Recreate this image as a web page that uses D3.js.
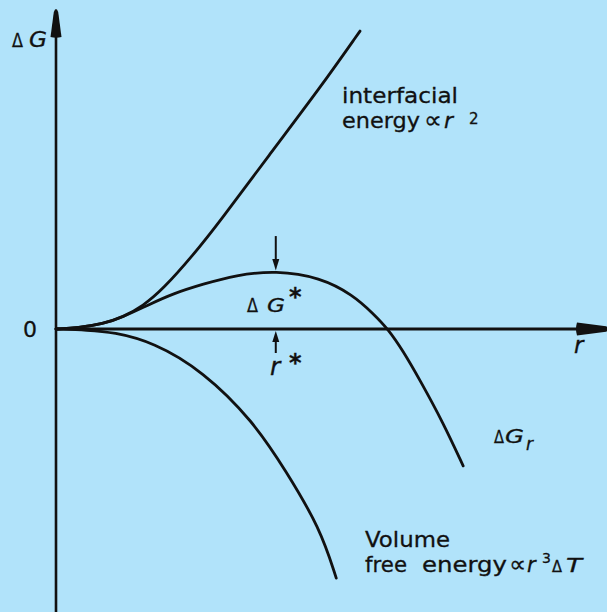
<!DOCTYPE html>
<html>
<head>
<meta charset="utf-8">
<script src="https://cdn.jsdelivr.net/npm/d3@7"></script>
<style>
  html, body { margin: 0; padding: 0; background: #b1e3fa; }
  svg { display: block; }
  text { font-family: "DejaVu Sans", sans-serif; fill: #111; stroke: #111; stroke-width: 0.3; }
</style>
</head>
<body>
<script>
// Free energy of a spherical nucleus versus radius r (arbitrary units)
const interfacialEnergy = [
  [0, 0], [0.41, 0.04], [0.87, 0.18], [1.24, 0.42], [1.61, 0.81], [1.98, 1.40],
  [2.54, 2.60], [3.04, 3.80], [3.96, 6.16], [4.89, 8.49], [5.63, 10.49]
];
const totalFreeEnergy = [
  [0, 0], [0.41, 0.04], [0.87, 0.18], [1.24, 0.42], [1.70, 0.84], [2.17, 1.25],
  [2.72, 1.58], [3.33, 1.90], [4.07, 2.06], [4.89, 1.82], [5.50, 1.20],
  [5.87, 0.55], [6.15, 0], [6.43, -0.78], [6.74, -1.80], [7.17, -3.30], [7.54, -4.82]
];
const volumeFreeEnergy = [
  [0, 0], [0.59, -0.04], [1.06, -0.11], [1.80, -0.46], [2.72, -1.48],
  [3.65, -3.24], [4.26, -5.00], [4.89, -7.01], [5.19, -8.77]
];
// Critical nucleus: radius r* and barrier height ΔG*
const critical = { r: 4.07, g: 2.04 };
const yTicks = [0];

const W = 607, H = 612;
const x = d3.scaleLinear().domain([0, 10]).range([56, 596]);
const y = d3.scaleLinear().domain([-10, 10]).range([613, 45]);

const svg = d3.select("body").append("svg")
  .attr("width", W).attr("height", H);

svg.append("rect").attr("width", W).attr("height", H).attr("fill", "#b1e3fa");

const ink = "#111";

// axes
svg.append("line")
  .attr("x1", x(0)).attr("x2", x(0))
  .attr("y1", H).attr("y2", 20)
  .attr("stroke", ink).attr("stroke-width", 2.6);
svg.append("line")
  .attr("x1", x(0)).attr("x2", 590)
  .attr("y1", y(0)).attr("y2", y(0))
  .attr("stroke", ink).attr("stroke-width", 3);

// arrowheads on the axes
const x0 = x(0), y0 = y(0);
svg.append("path")
  .attr("d", `M${x0 - 5.5},37 L${x0 - 2.2},12 Q${x0},6 ${x0 + 2.2},12 L${x0 + 5.5},37 Q${x0},38.5 ${x0 - 5.5},37 Z`)
  .attr("fill", ink);
svg.append("path")
  .attr("d", `M577,${y0 - 6.5} L606,${y0 - 2.8} Q612,${y0} 606,${y0 + 2.8} L577,${y0 + 6.5} Q575,${y0} 577,${y0 - 6.5} Z`)
  .attr("fill", ink);

// zero label on the ΔG axis
const yAxis = svg.append("g")
  .attr("transform", `translate(${x0},0)`)
  .call(d3.axisLeft(y).tickValues(yTicks).tickSize(0).tickPadding(19).tickFormat(d3.format("d")));
yAxis.select(".domain").remove();
yAxis.selectAll("text")
  .attr("font-family", "DejaVu Sans, sans-serif")
  .attr("font-size", 22).attr("fill", ink).attr("dy", "0.36em");

// curves
const line = d3.line()
  .x(d => x(d[0])).y(d => y(d[1]))
  .curve(d3.curveBasis);

[interfacialEnergy, totalFreeEnergy, volumeFreeEnergy].forEach(series => {
  svg.append("path")
    .attr("d", line(series))
    .attr("fill", "none")
    .attr("stroke", ink)
    .attr("stroke-width", 2.8)
    .attr("stroke-linecap", "round");
});

// markers pointing at the maximum and at r*
const cx = x(critical.r), cy = y(critical.g);
svg.append("line").attr("x1", cx).attr("x2", cx)
  .attr("y1", cy - 35).attr("y2", cy - 8)
  .attr("stroke", ink).attr("stroke-width", 2);
svg.append("path")
  .attr("d", `M${cx - 3.5},${cy - 12} L${cx + 3.5},${cy - 12} L${cx},${cy - 0.5} Z`)
  .attr("fill", ink);
svg.append("line").attr("x1", cx).attr("x2", cx)
  .attr("y1", y0 + 24).attr("y2", y0 + 8)
  .attr("stroke", ink).attr("stroke-width", 2);
svg.append("path")
  .attr("d", `M${cx - 3.5},${y0 + 13} L${cx + 3.5},${y0 + 13} L${cx},${y0 + 2} Z`)
  .attr("fill", ink);

// labels: each piece placed at its own x / baseline
function label(parts) {
  const t = svg.append("text");
  parts.forEach(p => {
    const s = t.append("tspan").text(p.t)
      .attr("x", p.x).attr("y", p.y)
      .attr("font-size", p.s || 21);
    if (p.i) s.attr("font-style", "italic");
    if (p.w) s.attr("font-weight", p.w);
    if (p.len) s.attr("textLength", p.len).attr("lengthAdjust", "spacingAndGlyphs");
  });
  return t;
}

label([{ t: "Δ", x: 12, y: 47, s: 20, len: 11 }, { t: "G", x: 29, y: 47, s: 21, i: true, len: 18 }]);
label([{ t: "r", x: 574, y: 353, s: 23, i: true }]);

label([{ t: "interfacial", x: 342, y: 103, len: 116 }]);
label([{ t: "energy", x: 342, y: 128, len: 78 },
       { t: "∝", x: 424, y: 128, s: 24, len: 18 },
       { t: "r", x: 444, y: 128, s: 22, i: true },
       { t: "2", x: 469, y: 124, s: 15 }]);

label([{ t: "Δ", x: 247, y: 312, s: 19, len: 11 },
       { t: "G", x: 267, y: 312, s: 20, i: true, len: 18 },
       { t: "*", x: 289, y: 305, s: 24, w: "bold" }]);
label([{ t: "r", x: 270, y: 375, s: 25, i: true },
       { t: "*", x: 289, y: 371, s: 24, w: "bold" }]);

label([{ t: "Δ", x: 494, y: 443, s: 17, len: 10 },
       { t: "G", x: 505, y: 443, s: 19, i: true, len: 19 },
       { t: "r", x: 526, y: 450, s: 17, i: true }]);

label([{ t: "Volume", x: 365, y: 547, len: 85 }]);
label([{ t: "free", x: 365, y: 572, len: 42 },
       { t: "energy", x: 422, y: 572, len: 85 },
       { t: "∝", x: 509, y: 572, s: 23, len: 17 },
       { t: "r", x: 527, y: 572, s: 21, i: true },
       { t: "3", x: 542, y: 563, s: 14 },
       { t: "Δ", x: 552, y: 572, s: 15, len: 10 },
       { t: "T", x: 566, y: 572, s: 20, i: true, len: 16 }]);
</script>
</body>
</html>
